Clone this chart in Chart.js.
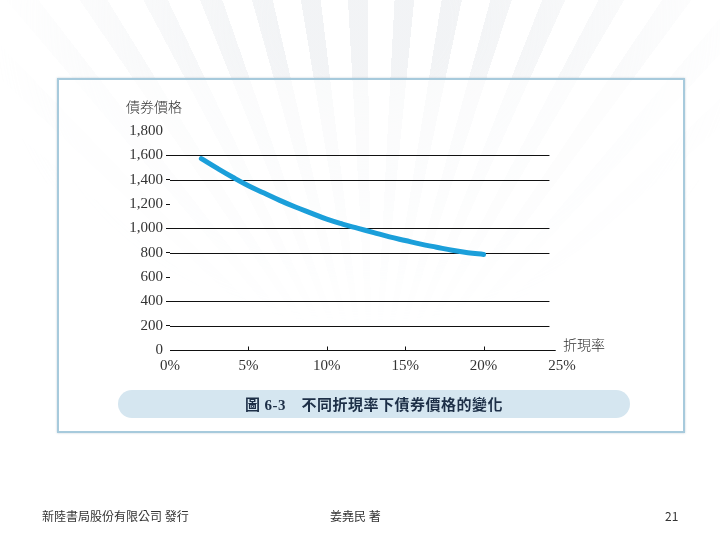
<!DOCTYPE html>
<html>
<head>
<meta charset="utf-8">
<script src="https://cdn.jsdelivr.net/npm/chart.js@4/dist/chart.umd.min.js"></script>
<style>
  html, body { margin:0; padding:0; width:720px; height:540px; background:#ffffff; overflow:hidden; }
  #rays { position:absolute; left:0; top:0; width:720px; height:540px; z-index:0;
    background: repeating-conic-gradient(from -90deg at 372px 430px, rgba(222,226,231,0.4) 0deg 2.6deg, rgba(255,255,255,0) 2.6deg 6.2deg);
    -webkit-mask-image: radial-gradient(ellipse 380px 330px at 372px 20px, #000 20%, rgba(0,0,0,0) 100%);
    mask-image: radial-gradient(ellipse 380px 330px at 372px 20px, #000 20%, rgba(0,0,0,0) 100%); }
  #box { position:absolute; left:57px; top:78px; width:628px; height:355px; box-sizing:border-box;
    border:2px solid #a7cadc; background:rgba(255,255,255,0.6); box-shadow:0 0 2px rgba(80,120,150,0.35); z-index:1; }
  #c { position:absolute; left:0; top:0; z-index:2; }
  #cap { position:absolute; left:118px; top:390px; width:512px; height:28px; border-radius:14px; background:#d5e6f0;
    z-index:3; text-align:center; line-height:28px; font-family:"Noto Sans CJK TC", sans-serif; font-weight:700;
    font-size:15px; color:#1d2f47; letter-spacing:0.5px; }
  #cap .num { font-family:"Liberation Serif", serif; font-weight:700; }
  .foot { position:absolute; top:507px; z-index:3; font-family:"Noto Sans CJK TC", sans-serif; font-size:12px; color:#333; }
</style>
</head>
<body>
<div id="rays"></div>
<div id="box"></div>
<canvas id="c" width="720" height="540"></canvas>
<div id="cap">圖 <span class="num">6-3</span>　不同折現率下債券價格的變化</div>
<div class="foot" style="left:42px;">新陸書局股份有限公司 發行</div>
<div class="foot" style="left:330px;">姜堯民 著</div>
<div class="foot" style="left:665px;">21</div>
<script>
// ---- data ----
const rates  = [2, 3, 4, 5, 6, 7, 8, 9, 10, 11, 12, 13, 14, 15, 16, 17, 18, 19, 20];
const prices = [1573, 1495, 1420, 1350, 1290, 1230, 1175, 1125, 1075, 1035, 1000, 965, 930, 900, 870, 845, 820, 800, 785];
const xTickValues = [0, 5, 10, 15, 20, 25];
const yTitle = '債券價格';
const xTitle = '折現率';
const gridValues = [200, 400, 800, 1000, 1400, 1600];   // full horizontal lines
const tickOnlyValues = [600, 1200];                      // short tick marks only

const serif = '"Liberation Serif", "Times New Roman", serif';
const cjk = '"Noto Sans CJK TC", sans-serif';

const linesPlugin = {
  id: 'linesPlugin',
  beforeDatasetsDraw(chart) {
    const { ctx, scales: { x, y } } = chart;
    ctx.save();
    ctx.strokeStyle = '#111';
    ctx.lineWidth = 1;
    const x0 = x.getPixelForValue(0);
    gridValues.forEach(v => {
      const py = Math.round(y.getPixelForValue(v)) + 0.5;
      ctx.beginPath(); ctx.moveTo(x0, py); ctx.lineTo(x.getPixelForValue(24.2), py); ctx.stroke();
    });
    const p0 = Math.round(y.getPixelForValue(0)) + 0.5;
    ctx.beginPath(); ctx.moveTo(x0, p0); ctx.lineTo(x.getPixelForValue(24.6), p0); ctx.stroke();
    [5, 10, 15, 20].forEach(v => {
      const px = Math.round(x.getPixelForValue(v)) + 0.5;
      ctx.beginPath(); ctx.moveTo(px, p0); ctx.lineTo(px, p0 - 4); ctx.stroke();
    });
    ctx.fillStyle = '#333';
    ctx.font = '300 14px ' + cjk;
    ctx.textBaseline = 'middle';
    ctx.textAlign = 'left';
    ctx.fillText(yTitle, x0 - 44, y.getPixelForValue(1800) - 24);
    ctx.fillText(xTitle, x.getPixelForValue(25) + 1, p0 - 6);
    ctx.restore();
  }
};

new Chart(document.getElementById('c'), {
  type: 'line',
  data: {
    datasets: [{
      data: rates.map((r, i) => ({ x: r, y: prices[i] })),
      borderColor: '#1b9fda',
      borderWidth: 5,
      borderCapStyle: 'round',
      borderJoinStyle: 'round',
      pointRadius: 0,
      tension: 0.4,
      fill: false
    }]
  },
  options: {
    responsive: false,
    animation: false,
    events: [],
    layout: { padding: { left: 120, top: 131, right: 158, bottom: 160 } },
    plugins: { legend: { display: false }, tooltip: { enabled: false }, title: { display: false } },
    scales: {
      x: {
        type: 'linear', min: 0, max: 25,
        afterBuildTicks: s => { s.ticks = xTickValues.map(v => ({ value: v })); },
        afterFit: s => { s.height = 30; },
        grid: { display: false, drawTicks: false },
        border: { display: false },
        ticks: { padding: 7, color: '#333', font: { family: serif, size: 15 }, callback: v => v + '%' }
      },
      y: {
        type: 'linear', min: 0, max: 1800,
        afterFit: s => { s.width = 50; },
        grid: {
          drawOnChartArea: false, drawTicks: true, tickLength: 4,
          color: c => (gridValues.includes(c.tick.value) || tickOnlyValues.includes(c.tick.value)) ? '#111' : 'rgba(0,0,0,0)'
        },
        border: { display: false },
        ticks: { stepSize: 200, padding: 3, color: '#333', font: { family: serif, size: 15 },
          callback: v => v.toLocaleString('en-US') }
      }
    }
  },
  plugins: [linesPlugin]
});
</script>
</body>
</html>
